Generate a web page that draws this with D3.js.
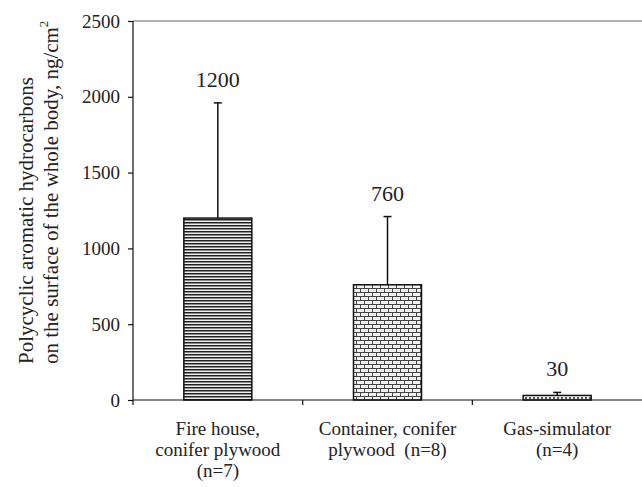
<!DOCTYPE html>
<html><head><meta charset="utf-8">
<script src="https://cdn.jsdelivr.net/npm/d3@7"></script>
<style>body{margin:0;background:#fff}svg{display:block}svg text{font-family:"Liberation Serif","DejaVu Serif",serif}</style>
</head><body>
<script>
const categories = [["Fire house,","conifer plywood","(n=7)"],["Container, conifer","plywood  (n=8)"],["Gas-simulator","(n=4)"]];
const means = [1200, 760, 30];
const sds = [760, 450, 20];
const valueLabels = ["1200","760","30"];
const patterns = ["hstripe","brick","dots"];
const yTicks = [0,500,1000,1500,2000,2500];

const W=642,H=487;
const m={l:133,r:0,t:21,b:87};
const svg=d3.select("body").append("svg").attr("width",W).attr("height",H);
const font='"Liberation Serif","DejaVu Serif",serif';
const defs=svg.append("defs");
// horizontal stripes
const p1=defs.append("pattern").attr("id","hstripe").attr("patternUnits","userSpaceOnUse").attr("width",6).attr("height",3);
p1.append("rect").attr("width",6).attr("height",3).attr("fill","#eee");
p1.append("rect").attr("y",0).attr("width",6).attr("height",1).attr("fill","#222");
p1.append("rect").attr("y",1).attr("width",6).attr("height",1).attr("fill","#888");
// brick
const p2=defs.append("pattern").attr("id","brick").attr("patternUnits","userSpaceOnUse").attr("width",8).attr("height",8);
p2.append("rect").attr("width",8).attr("height",8).attr("fill","#f2f2f2");
p2.append("path").attr("d","M0,0.5H8M0,4.5H8M0.5,0V4.5M4.5,4.5V8").attr("stroke","#444").attr("stroke-width",1).attr("fill","none");
// dots
const p3=defs.append("pattern").attr("id","dots").attr("patternUnits","userSpaceOnUse").attr("width",4).attr("height",4);
p3.append("rect").attr("width",4).attr("height",4).attr("fill","#f2f2f2");
p3.append("rect").attr("x",1).attr("y",1).attr("width",2).attr("height",2).attr("fill","#555");

const x=d3.scaleBand().domain(d3.range(categories.length)).range([m.l,W-m.r]).paddingInner(0).paddingOuter(0);
const y=d3.scaleLinear().domain([0,2500]).range([H-m.b,m.t]);

// top line
svg.append("line").attr("x1",m.l).attr("x2",W).attr("y1",y(2500)).attr("y2",y(2500)).attr("stroke","#999").attr("stroke-width",1.5);

// y axis
const ya=svg.append("g").attr("transform",`translate(${m.l},0)`).call(d3.axisLeft(y).tickValues(yTicks).tickSize(5).tickPadding(8).tickFormat(d3.format("d")));
ya.attr("font-family",null).attr("font-size",null);
ya.selectAll("text").style("font-family",font).style("font-size","19px").attr("fill","#222");
ya.selectAll("line,path").attr("stroke","#111").attr("stroke-width",1.2);
ya.select(".domain").attr("d",`M0,${y(2500)}V${y(0)}`);

// bars
const bw=68;
const g=svg.append("g");
means.forEach((v,i)=>{
  const cx=x(i)+x.bandwidth()/2;
  g.append("rect").attr("x",cx-bw/2).attr("y",y(v)).attr("width",bw).attr("height",y(0)-y(v))
   .attr("fill",`url(#${patterns[i]})`).attr("stroke","#111").attr("stroke-width",1.5);
  const top=y(v+sds[i]);
  g.append("line").attr("x1",cx).attr("x2",cx).attr("y1",y(v)).attr("y2",top).attr("stroke","#111").attr("stroke-width",1.5);
  g.append("line").attr("x1",cx-4).attr("x2",cx+4).attr("y1",top).attr("y2",top).attr("stroke","#111").attr("stroke-width",1.5);
  g.append("text").attr("x",cx).attr("y",top-16).attr("text-anchor","middle").style("font-family",font).style("font-size","22px").attr("fill","#222").text(valueLabels[i]);
});

// x axis
const xa=svg.append("g");
xa.append("line").attr("x1",m.l).attr("x2",W).attr("y1",y(0)).attr("y2",y(0)).attr("stroke","#111").attr("stroke-width",1.2);
[0,1,2].forEach(i=>{
  const xx=x(i);
  xa.append("line").attr("x1",xx).attr("x2",xx).attr("y1",y(0)).attr("y2",y(0)+5).attr("stroke","#111").attr("stroke-width",1.2);
});
categories.forEach((lines,i)=>{
  const cx=x(i)+x.bandwidth()/2;
  lines.forEach((t,j)=>{
    xa.append("text").attr("x",cx).attr("y",435+j*21).attr("text-anchor","middle").style("font-family",font).style("font-size","19px").attr("fill","#222").attr("xml:space","preserve").style("white-space","pre").text(t);
  });
});

// y label
const yl=svg.append("g").attr("transform",`translate(0,364) rotate(-90)`);
yl.append("text").attr("x",0).attr("y",33).attr("text-anchor","start").style("font-family",font).style("font-size","21px").attr("fill","#222").text("Polycyclic aromatic hydrocarbons");
const t2=yl.append("text").attr("x",0).attr("y",58).attr("text-anchor","start").style("font-family",font).style("font-size","21px").attr("fill","#222");
t2.append("tspan").text("on the surface of the whole body, ng/cm");
t2.append("tspan").attr("dy",-10).style("font-size","13px").text("2");
</script>
</body></html>
